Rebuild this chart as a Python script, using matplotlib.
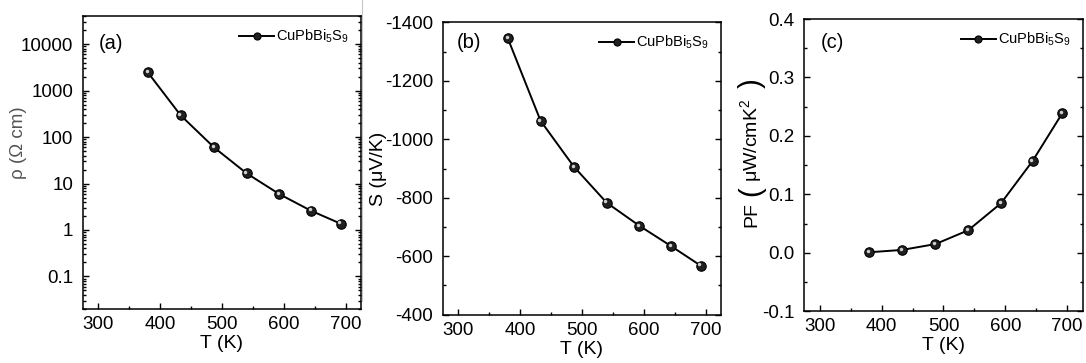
import matplotlib
matplotlib.use("Agg")
import matplotlib.pyplot as plt
import matplotlib.transforms as mtransforms
from matplotlib.lines import Line2D
from matplotlib.ticker import (FixedLocator, MultipleLocator, LogLocator,
                               NullFormatter, FormatStrFormatter)

# measured data, CuPbBi5S9
T = [380, 433, 487, 540, 593, 644, 692]
rho = [2450, 294, 60, 16.5, 5.9, 2.6, 1.37]            # Ohm cm
seebeck = [-1345, -1063, -906, -783, -704, -635, -568]  # uV/K
pf = [0.001, 0.005, 0.015, 0.0386, 0.0848, 0.157, 0.2387]  # uW/cmK^2

series_label = r"CuPbBi$_5$S$_9$"
rho_ticks = [0.1, 1, 10, 100, 1000, 10000]
rho_ticklabels = ["0.1", "1", "10", "100", "1000", "10000"]

plt.rcParams["font.family"] = ["Liberation Sans", "DejaVu Sans"]
plt.rcParams["mathtext.fontset"] = "custom"
plt.rcParams["mathtext.rm"] = "Liberation Sans"
plt.rcParams["mathtext.it"] = "Liberation Sans"
plt.rcParams["axes.unicode_minus"] = False

fig = plt.figure(figsize=(10.86, 3.63), dpi=100)
ax_a = fig.add_axes([0.0764, 0.1488, 0.256, 0.807])
ax_b = fig.add_axes([0.4079, 0.133, 0.256, 0.8055])
ax_c = fig.add_axes([0.7406, 0.1424, 0.2563, 0.8052])

# thin separator line left over from the panel layout
fig.add_artist(Line2D([362 / 1086, 362 / 1086], [0.17, 1.0], color="#c8c8c8", lw=0.8))


def draw_series(ax, x, y):
    ax.plot(x, y, color="black", lw=1.4, marker="o", ms=6.8,
            mfc="#202020", mec="black", mew=0.8, label=series_label, zorder=3)
    # small highlight on each sphere
    hl = mtransforms.offset_copy(ax.transData, fig=fig, x=-0.9, y=0.9, units="points")
    ax.plot(x, y, ls="none", marker="o", ms=2.5, mfc="#d0d0d0", mec="none",
            transform=hl, zorder=4)


def style_axes(ax):
    for s in ax.spines.values():
        s.set_linewidth(1.1)
    ax.set_xlim(275, 725)
    ax.xaxis.set_major_locator(MultipleLocator(100))
    ax.xaxis.set_minor_locator(MultipleLocator(50))
    ax.tick_params(which="both", direction="in", top=False, right=True,
                   labelsize=13.5, width=1.0, pad=5)
    ax.tick_params(axis="y", which="both", pad=7)
    ax.tick_params(which="major", length=4)
    ax.tick_params(which="minor", length=2.5)
    ax.set_xlabel("T (K)", fontsize=14, labelpad=1.5)
    ax.legend(loc="upper right", frameon=False, fontsize=10.5, markerscale=0.75,
              handlelength=2.4, handletextpad=0.15, borderaxespad=0.6,
              borderpad=0.2)


# (a) resistivity
draw_series(ax_a, T, rho)
ax_a.set_yscale("log")
ax_a.set_ylim(0.02, 40000)
ax_a.yaxis.set_major_locator(FixedLocator(rho_ticks))
ax_a.set_yticklabels(rho_ticklabels)
ax_a.yaxis.set_minor_locator(LogLocator(base=10, subs=range(2, 10), numticks=20))
ax_a.yaxis.set_minor_formatter(NullFormatter())
style_axes(ax_a)
ax_a.set_ylabel("ρ (Ω cm)", fontsize=13.5, color="#555555")
ax_a.yaxis.set_label_coords(-0.2, 0.567)
ax_a.text(0.055, 0.905, "(a)", transform=ax_a.transAxes, fontsize=14.5, va="center")

# (b) Seebeck coefficient
draw_series(ax_b, T, seebeck)
ax_b.set_ylim(-400, -1400)
ax_b.yaxis.set_major_locator(MultipleLocator(200))
ax_b.yaxis.set_minor_locator(MultipleLocator(100))
style_axes(ax_b)
ax_b.set_ylabel("S (μV/K)", fontsize=14)
ax_b.yaxis.set_label_coords(-0.2, 0.5)
ax_b.text(0.05, 0.93, "(b)", transform=ax_b.transAxes, fontsize=14.5, va="center")

# (c) power factor
draw_series(ax_c, T, pf)
ax_c.set_ylim(-0.1, 0.4)
ax_c.yaxis.set_major_locator(MultipleLocator(0.1))
ax_c.yaxis.set_minor_locator(MultipleLocator(0.05))
ax_c.yaxis.set_major_formatter(FormatStrFormatter("%.1f"))
style_axes(ax_c)
# y label built from pieces so the brackets can be drawn large
pf_x = -0.19
ax_c.text(pf_x, 0.33, "PF", transform=ax_c.transAxes, rotation=90,
          fontsize=14, ha="center", va="center")
ax_c.text(pf_x, 0.412, "(", transform=ax_c.transAxes, rotation=90,
          fontsize=21, ha="center", va="center")
ax_c.text(pf_x, 0.585, r"$\mu$W/cmK$^2$", transform=ax_c.transAxes, rotation=90,
          fontsize=14, ha="center", va="center")
ax_c.text(pf_x, 0.78, ")", transform=ax_c.transAxes, rotation=90,
          fontsize=21, ha="center", va="center")
ax_c.text(0.06, 0.918, "(c)", transform=ax_c.transAxes, fontsize=14.5, va="center")

fig.savefig("out.png", dpi=100)
